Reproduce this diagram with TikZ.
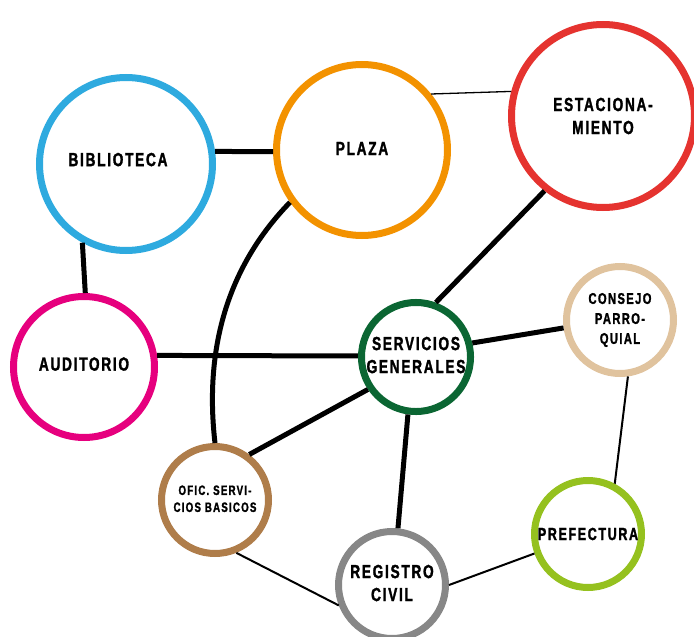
\documentclass[tikz,border=0pt]{standalone}
\usepackage{fontspec}
\newfontfamily\lblfont{Liberation Sans}[FakeStretch=0.72,LetterSpace=9,BoldFeatures={FakeBold=1.5}]
\definecolor{cbib}{HTML}{2EAADF}
\definecolor{cplaza}{HTML}{F39200}
\definecolor{cestac}{HTML}{E5332F}
\definecolor{caud}{HTML}{E6007E}
\definecolor{cserv}{HTML}{0B6633}
\definecolor{ccons}{HTML}{E0C39E}
\definecolor{cofic}{HTML}{AF7D4A}
\definecolor{creg}{HTML}{878787}
\definecolor{cpref}{HTML}{95C11F}
\tikzset{
  place/.style={circle,draw=#1,line width=7pt,fill=white,inner sep=0pt,align=center,
    font=\lblfont\bfseries\fontsize{19}{23}\selectfont},
  smallplace/.style={place=#1,minimum size=107pt},
  link/.style={line width=5pt},
  thinlink/.style={line width=2pt}
}
\begin{document}
\begin{tikzpicture}[x=1pt,y=-1pt]
  \useasboundingbox (0,0) rectangle (694,637);

  \node[place=cbib,minimum size=173pt] (bib) at (126,164) {\raisebox{9pt}{BIBLIOTECA\hspace*{16pt}}};
  \node[place=cplaza,minimum size=171pt] (plaza) at (362,150) {\raisebox{3pt}{PLAZA}};
  \node[place=cestac,minimum size=183pt] (estac) at (603,116) {ESTACIONA-\\MIENTO};
  \node[place=caud,minimum size=141pt] (aud) at (84,367) {\raisebox{6pt}{AUDITORIO}};
  \node[smallplace=cserv] (serv) at (416,357) {\raisebox{3pt}{\begin{tabular}{@{}c@{}}SERVICIOS\\GENERALES\end{tabular}}};
  \node[smallplace=ccons,font=\lblfont\bfseries\fontsize{15.5}{20}\selectfont] (cons) at (620,320) {CONSEJO\\PARRO-\\QUIAL};
  \node[smallplace=cofic,font=\lblfont\bfseries\fontsize{13.5}{17}\selectfont] (ofic) at (215,500) {\raisebox{4pt}{\begin{tabular}{@{}c@{}}OFIC. SERVI-\\CIOS BASICOS\end{tabular}}};
  \node[smallplace=creg] (reg) at (392,585) {\raisebox{4pt}{\begin{tabular}{@{}c@{}}REGISTRO\\CIVIL\end{tabular}}};
  \node[smallplace=cpref,font=\lblfont\bfseries\fontsize{17.5}{22}\selectfont] (pref) at (588,534) {PREFECTURA};

  \draw[link] (bib.8) -- (plaza.181);
  \draw[link] (bib.241) -- (aud.89);
  \draw[line width=1.3pt] (plaza.39) -- (estac.165);
  \draw[link] (estac.232) -- (serv.70);
  \draw[link] (plaza.216) .. controls +(-67,69) and +(-10,-87) .. (ofic.90);
  \draw[link] (aud.9) -- (serv.179);
  \draw[link] (serv.14) -- (cons.188);
  \draw[link] (serv.214) -- (ofic.53);
  \draw[link] (serv.262) -- (reg.84);
  \draw[thinlink] (cons.278) -- (pref.62);
  \draw[thinlink] (ofic.292) -- (reg.201);
  \draw[thinlink] (reg.0) -- (pref.200);
\end{tikzpicture}
\end{document}
